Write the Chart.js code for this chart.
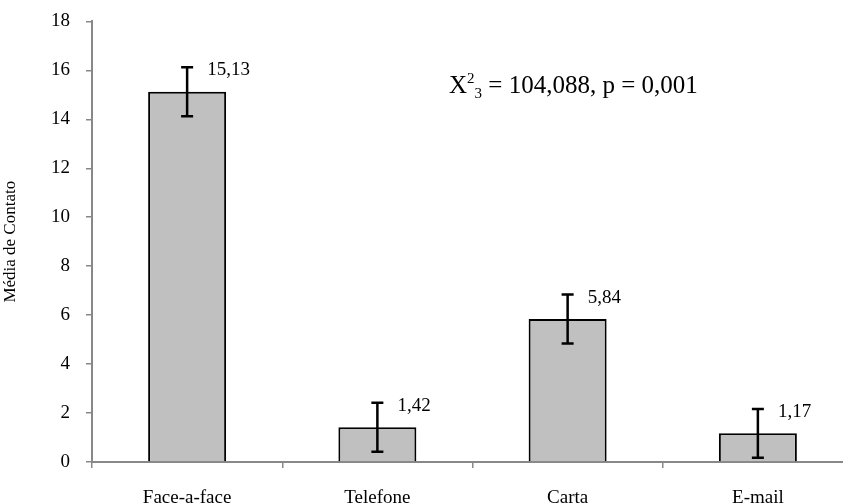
<!DOCTYPE html>
<html>
<head>
<meta charset="utf-8">
<script src="https://cdn.jsdelivr.net/npm/chart.js@4/dist/chart.umd.min.js"></script>
<style>
  html, body { margin: 0; padding: 0; background: #fff; overflow: hidden; }
  #wrap { position: relative; top: -6px; width: 853px; height: 510px; }
</style>
</head>
<body>
<div id="wrap"><canvas id="contactChart"></canvas></div>
<script>
const categories = ["Face-a-face", "Telefone", "Carta", "E-mail"];
const means = [15.13, 1.42, 5.84, 1.17];
const errors = [1.0, 1.0, 1.0, 1.0];
const valueLabels = ["15,13", "1,42", "5,84", "1,17"];
const yTicks = [0, 2, 4, 6, 8, 10, 12, 14, 16, 18];

const serif = "'Liberation Serif', 'Times New Roman', serif";

// error bars, value labels and the chi-square note
const extras = {
  id: "extras",
  afterDatasetsDraw(chart) {
    const c = chart.ctx;
    const x = chart.scales.x, y = chart.scales.y;
    c.save();
    means.forEach((m, i) => {
      const cx = x.getPixelForValue(i);
      const top = y.getPixelForValue(m + errors[i]);
      const bot = y.getPixelForValue(m - errors[i]);
      c.strokeStyle = "#000";
      c.lineWidth = 2.5;
      c.beginPath();
      c.moveTo(cx, top); c.lineTo(cx, bot);
      c.moveTo(cx - 6, top); c.lineTo(cx + 6, top);
      c.moveTo(cx - 6, bot); c.lineTo(cx + 6, bot);
      c.stroke();
      c.fillStyle = "#000";
      c.font = "19px " + serif;
      c.textAlign = "left";
      c.textBaseline = "middle";
      c.fillText(valueLabels[i], cx + 20, top + 3);
    });
    // X²₃ = 104,088, p = 0,001
    c.font = "25px " + serif;
    c.textBaseline = "alphabetic";
    let tx = 449, ty = 99;
    c.fillText("X", tx, ty); tx += c.measureText("X").width;
    c.font = "15px " + serif;
    c.fillText("2", tx, ty - 10);
    tx += c.measureText("2").width;
    c.fillText("3", tx, ty + 5);
    tx += c.measureText("3").width;
    c.font = "25px " + serif;
    c.fillText(" = 104,088, p = 0,001", tx, ty);
    c.restore();
  }
};

new Chart(document.getElementById("contactChart"), {
  type: "bar",
  data: {
    labels: categories,
    datasets: [{
      data: means,
      backgroundColor: "#c0c0c0",
      borderColor: "#000",
      borderWidth: 2,
      barPercentage: 0.41,
      categoryPercentage: 1.0
    }]
  },
  options: {
    responsive: true,
    maintainAspectRatio: false,
    animation: false,
    layout: { padding: { top: 9, right: 0, left: 0, bottom: 0 } },
    plugins: { legend: { display: false }, tooltip: { enabled: false } },
    scales: {
      x: {
        offset: true,
        grid: { drawOnChartArea: false, offset: true, color: "#888", tickLength: 6, lineWidth: 1.5 },
        border: { color: "#888", width: 2 },
        ticks: { color: "#000", font: { family: serif, size: 19 }, padding: 19 },
        afterFit(scale) { scale.height = 42; }
      },
      y: {
        min: 0, max: 18,
        afterBuildTicks(scale) { scale.ticks = yTicks.map(v => ({ value: v })); },
        grid: { drawOnChartArea: false, color: "#888", tickLength: 6, lineWidth: 1.5 },
        border: { color: "#888", width: 2 },
        ticks: { color: "#000", font: { family: serif, size: 19 }, padding: 16 },
        title: { display: true, text: "Média de Contato", color: "#000", font: { family: serif, size: 17 }, padding: 0 },
        afterFit(scale) { scale.width = 92; }
      }
    }
  },
  plugins: [extras]
});
</script>
</body>
</html>
